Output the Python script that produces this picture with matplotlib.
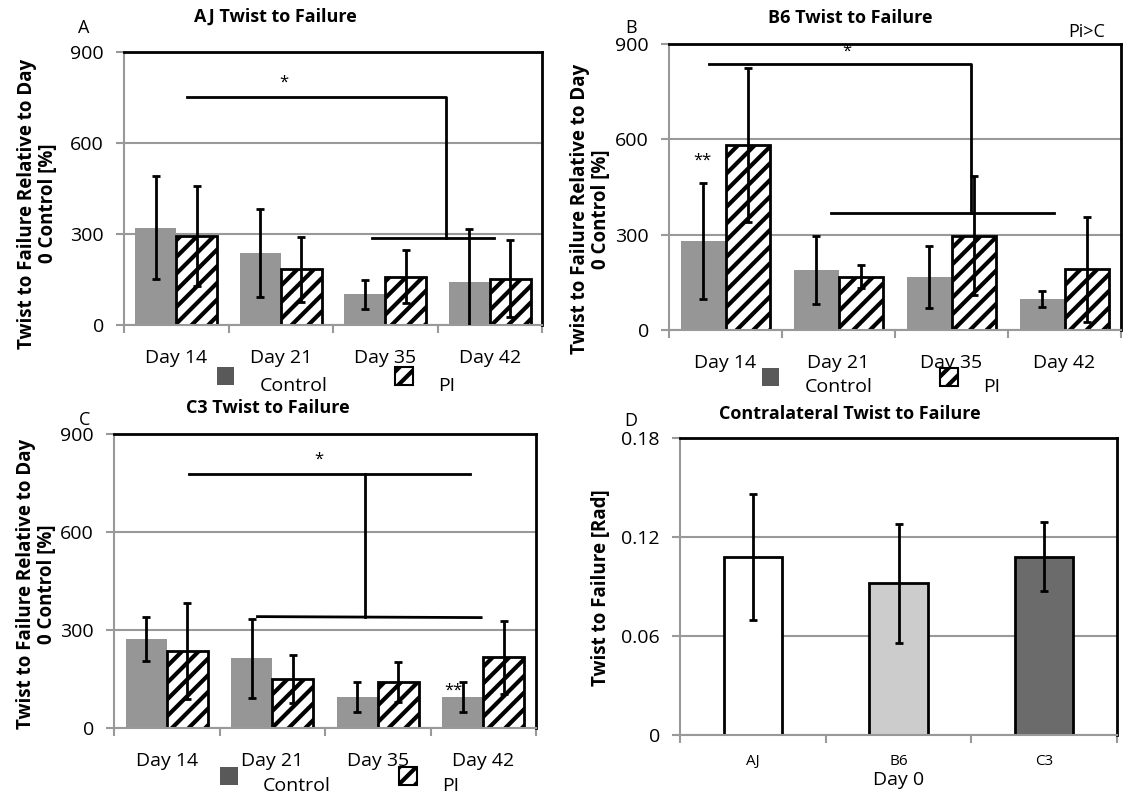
import numpy as np
import matplotlib
matplotlib.use('Agg')
import matplotlib.pyplot as plt
import matplotlib.transforms as mtransforms
from matplotlib.patches import Patch

plt.rcParams['font.family'] = ['Open Sans', 'DejaVu Sans']
plt.rcParams['hatch.linewidth'] = 3.0

days = ['Day 14', 'Day 21', 'Day 35', 'Day 42']

aj_control = [321, 236, 102, 142]
aj_control_err = [170, 145, 48, 174]
aj_pi = [293, 183, 159, 153]
aj_pi_err = [166, 106, 87, 128]

b6_control = [280, 189, 166, 98]
b6_control_err = [183, 106, 98, 25]
b6_pi = [582, 168, 297, 191]
b6_pi_err = [242, 36, 188, 165]

c3_control = [272, 213, 95, 95]
c3_control_err = [67, 121, 46, 47]
c3_pi = [237, 150, 141, 216]
c3_pi_err = [147, 72, 60, 113]

strains = ['AJ', 'B6', 'C3']
contra = [0.108, 0.092, 0.108]
contra_err = [0.038, 0.036, 0.021]

# significance brackets (x in category units, y in %)
aj_brackets = [([0.10, 2.58, 2.58], [753, 753, 288]), ([1.87, 3.04], [288, 288])]
aj_stars = [(1.03, 800, '*')]
b6_brackets = [([-0.15, 2.17, 2.17], [837, 837, 369]), ([0.93, 2.91], [369, 369])]
b6_stars = [(1.07, 876, '*'), (-0.2, 532, '**')]
c3_brackets = [([0.21, 2.87], [777, 777]), ([1.88, 1.88], [777, 339]), ([0.86, 2.98], [341, 338])]
c3_stars = [(1.44, 822, '*'), (2.72, 115, '**')]

W, H = 1128, 798
fig = plt.figure(figsize=(W / 100, H / 100), dpi=100)

def box(l, t, r, b):
    return [l / W, 1 - b / H, (r - l) / W, (b - t) / H]

def ftext(x, y, s, **kw):
    fig.text(x / W, 1 - y / H, s, ha='center', va='center', **kw)

gray = '#999999'
bar_gray = '#969696'

def style_axes(ax, ymax, yticks, ncat):
    ax.set_ylim(0, ymax)
    ax.set_xlim(-0.5, ncat - 0.5)
    ax.set_yticks(yticks)
    ax.grid(axis='y', color=gray, lw=1.5, zorder=0)
    ax.set_axisbelow(True)
    for s in ['left', 'bottom']:
        ax.spines[s].set_color(gray)
        ax.spines[s].set_linewidth(1.5)
    for s in ['top', 'right']:
        ax.spines[s].set_color('black')
        ax.spines[s].set_linewidth(2)
    ax.set_xticks(np.arange(ncat))
    ax.set_xticks(np.arange(ncat + 1) - 0.5, minor=True)
    ax.tick_params(axis='x', which='major', length=0, pad=17, labelsize=14)
    ax.tick_params(axis='x', which='minor', length=6, width=1.5, color=gray)
    ax.tick_params(axis='y', length=6, width=1.5, color=gray, pad=8.5, labelsize=14)

def grouped(ax, control, control_err, pi, pi_err, brackets, stars, legend_at, label_at):
    x = np.arange(len(days))
    w = 0.39
    ax.bar(x - w / 2, control, w, color=bar_gray, zorder=2)
    ax.bar(x + w / 2, pi, w, color='white', edgecolor='black', hatch='//', lw=2, zorder=2)
    ax.errorbar(x - w / 2, control, yerr=control_err, fmt='none', ecolor='black',
                elinewidth=2, capsize=3.2, capthick=2, zorder=3)
    ax.errorbar(x + w / 2, pi, yerr=pi_err, fmt='none', ecolor='black',
                elinewidth=2, capsize=3.2, capthick=2, zorder=3)
    for bx, by in brackets:
        ax.plot(bx, by, color='black', lw=2, zorder=4, clip_on=False)
    for sx, sy, s in stars:
        ax.text(sx, sy, s, ha='center', va='center', fontsize=12, zorder=4)
    style_axes(ax, 900, [0, 300, 600, 900], len(days))
    ax.set_xticklabels(days)
    ax.set_ylabel('Twist to Failure Relative to Day\n0 Control [%]', fontsize=13.5,
                  fontweight='bold', linespacing=1.05)
    ax.yaxis.set_label_coords(*label_at)
    handles = [Patch(facecolor='#595959', edgecolor='none'),
               Patch(facecolor='white', edgecolor='black', hatch='//', lw=1.5)]
    leg = ax.legend(handles, ['Control', 'PI'], loc='center', bbox_to_anchor=legend_at,
                    ncol=2, frameon=False, fontsize=14, handlelength=0.9, handleheight=1.05,
                    handletextpad=1.3, columnspacing=3.5)
    # labels sit a little lower than the swatches
    shift = mtransforms.ScaledTranslation(0, -6 / 72, fig.dpi_scale_trans)
    for t in leg.get_texts():
        t.set_transform(t.get_transform() + shift)

ax_a = fig.add_axes(box(124, 52, 542, 325))
grouped(ax_a, aj_control, aj_control_err, aj_pi, aj_pi_err, aj_brackets, aj_stars,
        (0.507, -0.189), (-0.158, 0.445))
ax_b = fig.add_axes(box(669, 44, 1121, 330))
grouped(ax_b, b6_control, b6_control_err, b6_pi, b6_pi_err, b6_brackets, b6_stars,
        (0.469, -0.168), (-0.128, 0.423))
ax_c = fig.add_axes(box(114, 434, 536, 728))
grouped(ax_c, c3_control, c3_control_err, c3_pi, c3_pi_err, c3_brackets, c3_stars,
        (0.535, -0.166), (-0.135, 0.49))

ax_d = fig.add_axes(box(680, 438, 1117, 735))
xs = np.arange(len(strains))
ax_d.bar(xs, contra, 0.4, color=['white', '#cccccc', '#6b6b6b'], edgecolor='black', lw=2, zorder=2)
ax_d.errorbar(xs, contra, yerr=contra_err, fmt='none', ecolor='black',
              elinewidth=2, capsize=3.2, capthick=2, zorder=3)
style_axes(ax_d, 0.18, [0, 0.06, 0.12, 0.18], len(strains))
ax_d.set_yticklabels(['0', '0.06', '0.12', '0.18'])
ax_d.set_xticklabels(strains)
ax_d.tick_params(axis='x', which='major', labelsize=11, pad=14)
ax_d.set_xlabel('Day 0', fontsize=14, labelpad=1)
ax_d.set_ylabel('Twist to Failure [Rad]', fontsize=13.5, fontweight='bold')
ax_d.yaxis.set_label_coords(-0.157, 0.497)

ftext(275, 17, 'AJ Twist to Failure', fontsize=13, fontweight='bold')
ftext(850, 18, 'B6 Twist to Failure', fontsize=13, fontweight='bold')
ftext(268, 408, 'C3 Twist to Failure', fontsize=13, fontweight='bold')
ftext(850, 414, 'Contralateral Twist to Failure', fontsize=13, fontweight='bold')
ftext(84, 28, 'A', fontsize=13)
ftext(631, 28, 'B', fontsize=13)
ftext(85, 420, 'C', fontsize=13)
ftext(631, 421, 'D', fontsize=13)
ftext(1087, 32, 'Pi>C', fontsize=13)

fig.savefig('out.png', dpi=100)
